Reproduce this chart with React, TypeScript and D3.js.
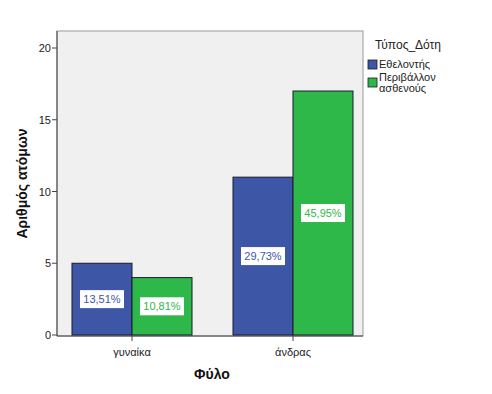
import React from "react";
import * as d3 from "d3";

const categories = ["γυναίκα", "άνδρας"];
const seriesNames = ["Εθελοντής", "Περιβάλλον ασθενούς"];
const volunteer = [5, 11];
const environment = [4, 17];
const volunteerPct = ["13,51%", "29,73%"];
const environmentPct = ["10,81%", "45,95%"];
const yTicks = [0, 5, 10, 15, 20];
const colors = ["#3d56a6", "#2fb84a"];

const W = 492, H = 394;
const left = 57, right = 363, top = 31, bottom = 336;
const font = "'Liberation Sans', Arial, sans-serif";

export default function App() {
  const y = d3.scaleLinear().domain([0, 20]).range([335, 48]);
  const x0 = d3.scaleBand().domain(categories).range([left, right]).paddingInner(0.2547).paddingOuter(0.0776).align(0.6);
  const x1 = d3.scaleBand().domain(seriesNames).range([0, x0.bandwidth()]);
  const series = [volunteer, environment];
  const pcts = [volunteerPct, environmentPct];
  return (
    <svg width={W} height={H} style={{ position: "absolute", left: 0, top: 0, background: "#fff" }} fontFamily={font}>
      <rect x={left} y={top} width={right - left} height={bottom - top} fill="#f0f0f0" stroke="#9a9a9a" strokeWidth={1} />
      <line x1={left} x2={left} y1={top} y2={bottom} stroke="#444" />
      <line x1={left} x2={right} y1={bottom} y2={bottom} stroke="#444" />
      {series.map((vals, si) =>
        categories.map((c, ci) => {
          const bx = (x0(c) as number) + (x1(seriesNames[si]) as number);
          const bw = x1.bandwidth();
          const yv = y(vals[ci]);
          return (
            <rect key={`${si}-${ci}`} x={bx} y={yv} width={bw} height={y(0) - yv} fill={colors[si]} stroke="#1a1a2e" strokeWidth={1} />
          );
        })
      )}
      {series.map((vals, si) =>
        categories.map((c, ci) => {
          const cx = (x0(c) as number) + (x1(seriesNames[si]) as number) + x1.bandwidth() / 2;
          const cy = (y(vals[ci]) + y(0)) / 2;
          return (
            <g key={`l-${si}-${ci}`}>
              <rect x={cx - 22} y={cy - 9} width={44} height={18} fill="#fff" />
              <text x={cx} y={cy + 4} textAnchor="middle" fontSize={11} fill={colors[si]}>{pcts[si][ci]}</text>
            </g>
          );
        })
      )}
      {yTicks.map((t) => (
        <g key={t}>
          <line x1={left - 5} x2={left} y1={y(t)} y2={y(t)} stroke="#444" />
          <text x={left - 6} y={y(t) + 4} textAnchor="end" fontSize={11} fill="#222">{t}</text>
        </g>
      ))}
      {categories.map((c) => {
        const cx = (x0(c) as number) + x0.bandwidth() / 2;
        return (
          <g key={c}>
            <line x1={cx} x2={cx} y1={bottom} y2={bottom + 5} stroke="#444" />
            <text x={cx} y={bottom + 20} textAnchor="middle" fontSize={11} fill="#222">{c}</text>
          </g>
        );
      })}
      <text x={212} y={379} textAnchor="middle" fontSize={14} fontWeight="bold" fill="#111">Φύλο</text>
      <text transform={`translate(27,${(top + bottom) / 2}) rotate(-90)`} textAnchor="middle" fontSize={14} fontWeight="bold" fill="#111">Αριθμός ατόμων</text>
      <text x={375} y={49} fontSize={12} fill="#222">Τύπος_Δότη</text>
      <rect x={368} y={60} width={9} height={9} fill={colors[0]} stroke="#1a1a2e" strokeWidth={0.8} />
      <text x={379} y={68} fontSize={11} fill="#222">Εθελοντής</text>
      <rect x={368} y={78} width={9} height={9} fill={colors[1]} stroke="#1a1a2e" strokeWidth={0.8} />
      <text x={379} y={81} fontSize={11} fill="#222">Περιβάλλον</text>
      <text x={379} y={92} fontSize={11} fill="#222">ασθενούς</text>
    </svg>
  );
}
